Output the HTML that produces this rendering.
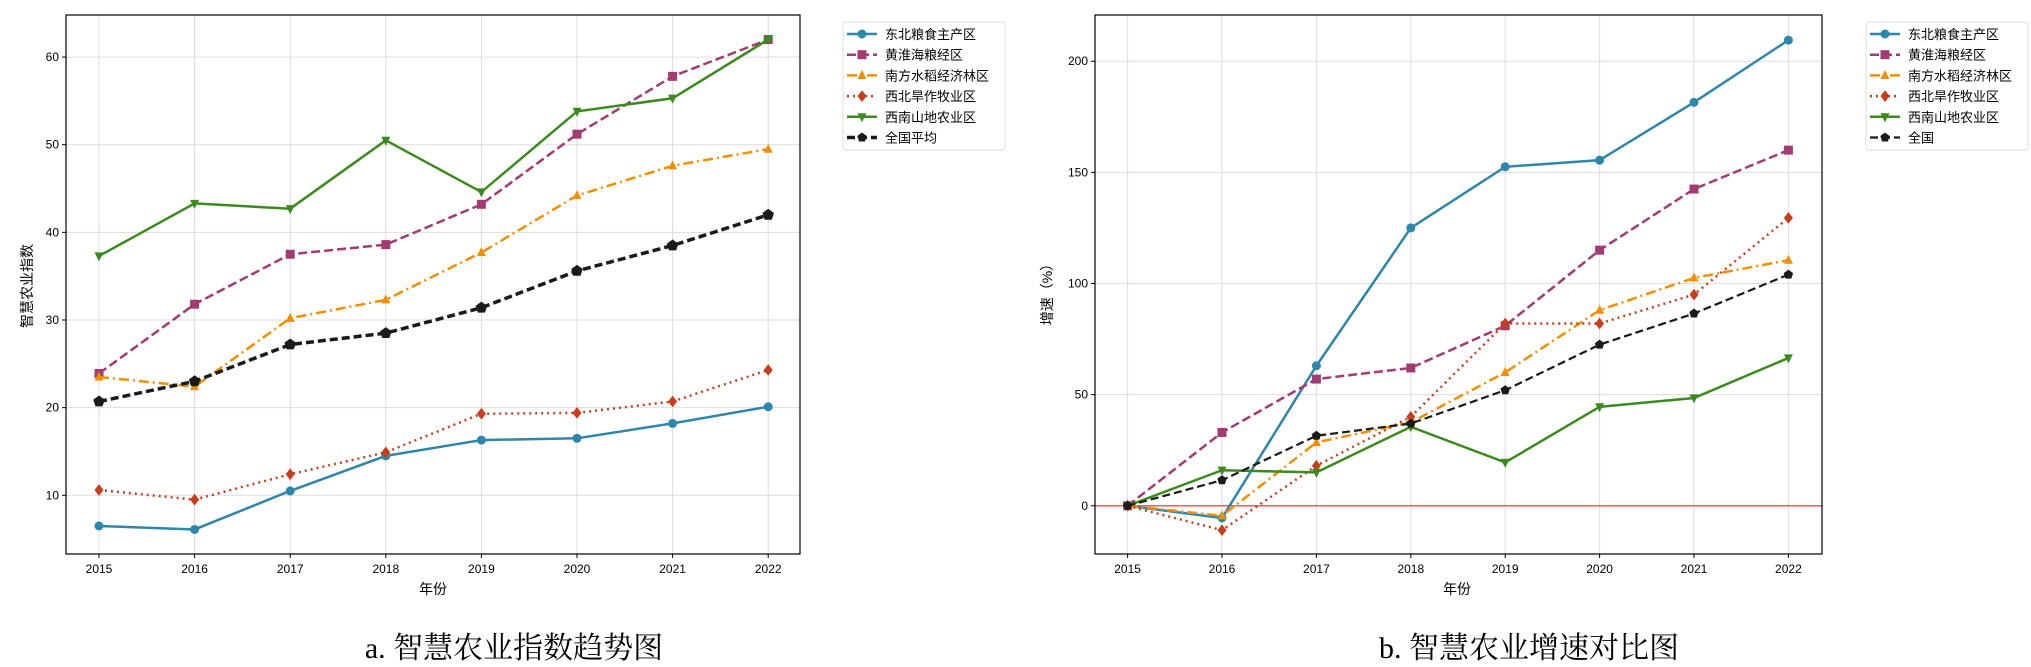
<!DOCTYPE html>
<html><head><meta charset="utf-8">
<style>
html,body{margin:0;padding:0;background:#fff;}
svg{display:block;font-family:"Liberation Sans","Noto Sans CJK SC",sans-serif;}
</style></head>
<body>
<svg id="s" width="2031" height="667" xmlns="http://www.w3.org/2000/svg">
<text x="514" y="658" font-size="30" text-anchor="middle" font-family="Liberation Serif, Noto Serif CJK SC, serif">a. 智慧农业指数趋势图</text>
<text x="1529" y="658" font-size="30" text-anchor="middle" font-family="Liberation Serif, Noto Serif CJK SC, serif">b. 智慧农业增速对比图</text>
<text x="433" y="594" font-size="14" text-anchor="middle">年份</text>
<text x="1457" y="594" font-size="14" text-anchor="middle">年份</text>
<text transform="translate(32,286) rotate(-90)" font-size="14" text-anchor="middle">智慧农业指数</text>
<text transform="translate(1052,291) rotate(-90)" font-size="14" text-anchor="middle">增速（%）</text>
</svg>
<script>
const NS="http://www.w3.org/2000/svg",S=document.getElementById('s');
function el(t,a,p){const e=document.createElementNS(NS,t);for(const k in a)e.setAttribute(k,a[k]);(p||S).appendChild(e);return e;}
const cols=['#2e86ab','#a23b72','#f18f01','#c73e1d','#3b8a1e','#1a1a1a'];
const dash=['', '9,4','10,4,2,4','2,4','', '8,4'];
const mk=['o','s','^','d','v','p'];
function marker(g,t,x,y,c,r){
 if(t=='o')el('circle',{cx:x,cy:y,r:r,fill:c},g);
 else if(t=='s')el('rect',{x:x-r,y:y-r,width:2*r,height:2*r,fill:c},g);
 else if(t=='^')el('polygon',{points:`${x},${y-r*1.2} ${x-r},${y+r*0.8} ${x+r},${y+r*0.8}`,fill:c},g);
 else if(t=='v')el('polygon',{points:`${x},${y+r*1.2} ${x-r},${y-r*0.8} ${x+r},${y-r*0.8}`,fill:c},g);
 else if(t=='d')el('polygon',{points:`${x},${y-r*1.3} ${x+r},${y} ${x},${y+r*1.3} ${x-r},${y}`,fill:c},g);
 else{let p=[];for(let i=0;i<5;i++){let a=-Math.PI/2+i*2*Math.PI/5;p.push((x+r*1.1*Math.cos(a))+','+(y+r*1.1*Math.sin(a)));}el('polygon',{points:p.join(' '),fill:c},g);}
}
function chart(o){
 const {L,R,T,B,x0,dx,ymin,ymax,yt,data,names,lw,zero,leg}=o;
 const Y=v=>B-(v-ymin)/(ymax-ymin)*(B-T);
 for(let i=0;i<8;i++){const x=x0+i*dx;el('line',{x1:x,x2:x,y1:T,y2:B,stroke:'#ddd','stroke-width':1});
  el('line',{x1:x,x2:x,y1:B,y2:B+4,stroke:'#000'});
  const t=el('text',{x:x,y:B+19,'font-size':12,'text-anchor':'middle'});t.textContent=2015+i;}
 yt.forEach(v=>{const y=Y(v);el('line',{x1:L,x2:R,y1:y,y2:y,stroke:'#ddd'});el('line',{x1:L-4,x2:L,y1:y,y2:y,stroke:'#000'});
  const t=el('text',{x:L-7,y:y+4,'font-size':12,'text-anchor':'end'});t.textContent=v;});
 if(zero)el('line',{x1:L,x2:R,y1:Y(0),y2:Y(0),stroke:'#e06060','stroke-width':1.5});
 data.forEach((d,k)=>{const g=el('g',{});
  el('polyline',{points:d.map((v,i)=>(x0+i*dx)+','+Y(v)).join(' '),fill:'none',stroke:cols[k],'stroke-width':lw[k],'stroke-dasharray':dash[k]},g);
  d.forEach((v,i)=>marker(g,mk[k],x0+i*dx,Y(v),cols[k],k==5&&lw[5]>2.5?5.5:4.5));});
 el('rect',{x:L,y:T,width:R-L,height:B-T,fill:'none',stroke:'#000','stroke-width':1.2});
 const lx=leg;el('rect',{x:lx,y:22,width:o.lwid,height:128,rx:3,fill:'#fff',stroke:'#ddd'});
 names.forEach((n,k)=>{const y=34+k*20.7;const g=el('g',{});
  el('line',{x1:lx+4,x2:lx+34,y1:y,y2:y,stroke:cols[k],'stroke-width':lw[k],'stroke-dasharray':dash[k]},g);
  marker(g,mk[k],lx+19,y,cols[k],4.5);
  const t=el('text',{x:lx+42,y:y+5,'font-size':13},g);t.textContent=n;});
}
chart({L:66,R:800,T:15,B:554,x0:99,dx:95.6,ymin:3.3,ymax:64.8,yt:[10,20,30,40,50,60],leg:843,lwid:162,
 lw:[2.5,2.5,2.5,2.5,2.5,3.5],
 names:['东北粮食主产区','黄淮海粮经区','南方水稻经济林区','西北旱作牧业区','西南山地农业区','全国平均'],
 data:[[6.5,6.1,10.5,14.5,16.3,16.5,18.2,20.1],[23.9,31.8,37.5,38.6,43.2,51.2,57.8,62.0],[23.5,22.4,30.2,32.3,37.7,44.2,47.6,49.5],[10.6,9.5,12.4,14.9,19.3,19.4,20.7,24.3],[37.3,43.3,42.7,50.5,44.6,53.8,55.3,62],[20.7,23.0,27.2,28.5,31.4,35.6,38.5,42.0]]});
chart({L:1095,R:1822,T:15,B:554,x0:1127.6,dx:94.4,ymin:-21.7,ymax:220.8,yt:[0,50,100,150,200],leg:1866,lwid:162,zero:1,
 lw:[2.5,2.5,2.5,2.5,2.5,2.2],
 names:['东北粮食主产区','黄淮海粮经区','南方水稻经济林区','西北旱作牧业区','西南山地农业区','全国'],
 data:[[0,-5.5,63,125,152.5,155.5,181.5,209.5],[0,33,57,62,81,115,142.5,160],[0,-4.5,28.5,37.5,60,88,102.5,110.5],[0,-11,18,40,82,82,95,129.5],[0,16,15,35.5,19.5,44.5,48.5,66.5],[0,11.5,31.5,37,52,72.5,86.5,104]]});
</script>
</body></html>
